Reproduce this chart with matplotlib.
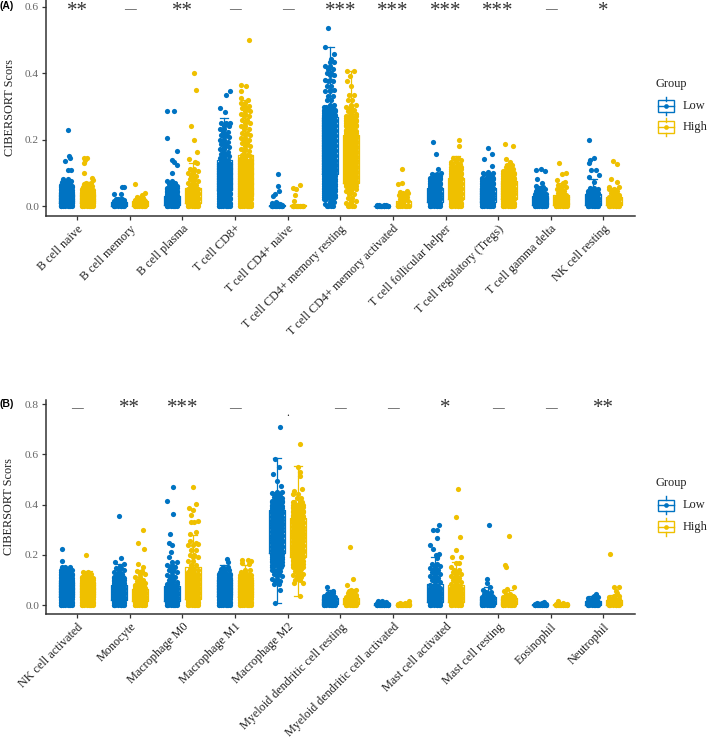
import matplotlib
matplotlib.use("Agg")
import matplotlib.pyplot as plt
from matplotlib.patches import Rectangle

plt.rcParams['font.family'] = ['Liberation Serif', 'DejaVu Serif']

LOW = '#0073C2'
HIGH = '#EFC000'
W, H = 709, 738

a_names = ['B cell naive', 'B cell memory', 'B cell plasma', 'T cell CD8+', 'T cell CD4+ naive',
           'T cell CD4+ memory resting', 'T cell CD4+ memory activated', 'T cell follicular helper',
           'T cell regulatory (Tregs)', 'T cell gamma delta', 'NK cell resting']
a_sig = ['**', '—', '**', '—', '—', '***', '***', '***', '***', '—', '*']
b_names = ['NK cell activated', 'Monocyte', 'Macrophage M0', 'Macrophage M1', 'Macrophage M2',
           'Myeloid dendritic cell resting', 'Myeloid dendritic cell activated', 'Mast cell activated',
           'Mast cell resting', 'Eosinophil', 'Neutrophil']
b_sig = ['—', '**', '***', '—', '.', '—', '—', '*', '—', '—', '**']

# sideways jitter: full rows inside the solid band, two marks per value outside it
row_lanes = [[-0.1, -0.02, 0.1, 0.04], [-0.07, 0.03, 0.07, -0.1], [-0.1, 0.0, 0.1, -0.04]]
thin_lanes = [[-0.06, 0.03], [-0.03, 0.06], [-0.09, 0.0], [0.0, 0.09]]

# dense part of each strip: y values only
a_low_body = [
    [0]*2 + [.004, .008, .012, .016, .021, .025, .03, .034, .038, .043, .047, .051, .056, .06, .064, .069, .072, .076, .08],
    [0]*2 + [.003, .006, .009, .012, .014, .017, .02, .022],
    [0]*2 + [.004, .008, .012, .016, .02, .024, .028, .032, .037, .041, .045, .05, .055, .06, .065, .07, .075],
    [0]*2 + [.005, .01, .015, .02, .025, .03, .035, .04, .045, .05, .055, .06, .065, .07, .075, .08, .085, .09, .095, .1, .105, .11, .115, .12, .125, .13, .135, .14, .145, .15, .158, .164, .172, .178, .186, .192, .2, .208, .215, .224, .232, .24, .25],
    [0]*3 + [.002, .004, .006, .009],
    [0]*2 + [.006, .012, .02, .027, .034, .04, .045, .05, .055, .06, .065, .07, .075, .08, .085, .09, .095, .1, .105, .11, .115, .12, .125, .13, .135, .14, .145, .15, .155, .16, .165, .17, .175, .18, .185, .19, .195, .2, .205, .21, .215, .22, .225, .23, .235, .24, .245, .25, .255, .26, .265, .27, .275, .28, .285, .29, .298, .305, .318, .33, .345, .35, .36, .375, .38, .395, .4, .412, .42, .432],
    [0]*3 + [.001, .002],
    [0]*2 + [.005, .01, .015, .02, .025, .03, .035, .04, .045, .05, .055, .06, .065, .07, .075, .08, .085, .09, .095],
    [0]*2 + [.005, .01, .015, .02, .025, .03, .035, .04, .045, .05, .055, .06, .065, .07, .075, .08, .085, .09, .095],
    [0]*2 + [.005, .01, .015, .02, .025, .03, .035, .04, .045, .05, .055],
    [0]*2 + [.005, .01, .015, .02, .025, .03, .035, .04, .045, .05, .055],
]
a_high_body = [
    [0]*2 + [.004, .008, .012, .016, .021, .025, .03, .034, .038, .043, .047, .051, .056, .06, .065, .07],
    [0]*2 + [.003, .006, .009, .012, .015, .018, .021, .024],
    [0]*2 + [.005, .01, .015, .02, .025, .03, .035, .04, .045, .05, .056, .062, .068, .075, .082, .09, .098, .105, .112],
    [0]*2 + [.005, .01, .015, .02, .025, .03, .035, .04, .045, .05, .055, .06, .065, .07, .075, .08, .085, .09, .095, .1, .105, .11, .115, .12, .125, .13, .135, .14, .145, .15, .155, .165, .172, .18, .19, .198, .205, .215, .22, .232, .24, .25, .26, .27, .278, .285, .295, .3, .31],
    [0]*3,
    [0]*2 + [.008, .015, .025, .035, .045, .05, .055, .06, .065, .07, .075, .08, .085, .09, .095, .1, .105, .11, .115, .12, .125, .13, .135, .14, .145, .15, .155, .16, .165, .17, .175, .18, .185, .19, .195, .2, .205, .21, .215, .22, .225, .23, .24, .245, .25, .255, .26, .265, .27, .278, .285, .29, .298, .305, .32, .335],
    [0]*2 + [.008, .015, .02, .027, .034, .04],
    [0]*2 + [.005, .01, .015, .02, .025, .03, .035, .04, .045, .05, .055, .06, .065, .07, .075, .08, .085, .09, .095, .1, .105, .11, .118, .125, .132, .14, .146],
    [0]*2 + [.005, .01, .015, .02, .025, .03, .035, .04, .045, .05, .055, .06, .065, .07, .075, .08, .085, .09, .095, .1, .105, .11, .118, .124],
    [0]*2 + [.005, .01, .016, .022, .028, .034, .04, .046, .052, .058, .064],
    [0]*2 + [.005, .01, .015, .02, .026, .032, .038, .044, .05],
]
# y range of each strip that reads as a solid block
a_low_solid = [(0, .065), (0, .015), (0, .055), (0, .125), (0, .004), (.02, .3), (0, .01), (0, .085), (0, .085), (0, .035), (0, .045)]
a_high_solid = [(0, .055), (0, .018), (0, .055), (0, .14), (0, .01), (.06, .27), (0, .001), (0, .125), (0, .105), (0, .028), (0, .028)]
# single points above the dense part: (jitter, y)
a_low_top = [
    [(.03, .228), (.05, .151), (.07, .145), (-.03, .135), (.03, .108), (.08, .108)],
    [(-.1, .036), (.04, .036), (.06, .058), (.09, .058)],
    [(-.09, .286), (.04, .286), (-.1, .206), (.09, .167), (0, .14), (.04, .131), (.09, .123), (.01, .1)],
    [(.1, .346), (.03, .335), (-.09, .296), (.02, .283), (.11, .25)],
    [(.01, .095), (.01, .06), (.04, .046), (-.04, .036), (-.07, .031), (-.02, .013)],
    [(-.03, .535), (-.08, .48), (.08, .456), (.03, .443)],
    [],
    [(-.03, .194), (.02, .157), (.06, .111), (.11, .098)],
    [(.01, .175), (.08, .157), (-.06, .141), (.08, .121), (.01, .103), (.11, .098), (-.08, .098)],
    [(-.08, .107), (.01, .111), (.09, .105), (-.07, .08), (.03, .07), (-.08, .06), (.05, .058)],
    [(-.08, .198), (.03, .146), (-.05, .138), (-.08, .128), (-.03, .108), (.06, .108), (.11, .093), (-.08, .086), (.03, .073)],
]
a_high_top = [
    [(-.06, .146), (-.02, .146), (-.05, .138), (-.06, .128), (-.06, .098), (.08, .083), (.1, .078)],
    [(-.09, .067), (.1, .038), (.03, .033), (-.06, .028)],
    [(.02, .4), (.06, .35), (-.04, .24), (.03, .2), (.07, .163), (-.07, .142), (.04, .132), (.08, .128)],
    [(.06, .501), (-.08, .364), (.01, .362), (-.08, .345), (-.09, .326), (.05, .32)],
    [(.04, .063), (-.09, .053), (-.04, .051), (-.06, .033), (-.08, .016)],
    [(-.08, .405), (.06, .405), (-.02, .39), (-.07, .376), (.0, .36)],
    [(-.03, .11), (-.02, .068), (-.1, .065), (-.07, .043), (.07, .045), (.03, .032)],
    [(.06, .199), (.05, .181)],
    [(-.07, .186), (.08, .18), (-.05, .142), (.03, .133)],
    [(-.05, .13), (.09, .1), (.01, .096), (-.09, .078), (.07, .073), (.03, .07)],
    [(-.02, .136), (.06, .125), (-.06, .081), (.06, .072), (-.1, .058), (.1, .058)],
]
a_low_box = [(0, .01, .02, .04, .075), (0, 0, .006, .012, .025), (0, .004, .012, .03, .07), (0, .048, .09, .14, .266),
             (0, 0, 0, .002, .006), (0, .095, .17, .268, .48), (0, 0, 0, 0, .002), (0, .012, .03, .055, .1),
             (0, .012, .03, .055, .1), (0, .002, .012, .03, .06), (0, .004, .015, .035, .08)]
a_high_box = [(0, .01, .022, .04, .072), (0, 0, .006, .014, .03), (0, .008, .025, .053, .128), (0, .03, .08, .153, .32),
              (0, 0, 0, .002, .004), (0, .07, .14, .213, .405), (0, 0, .004, .016, .04), (0, .02, .05, .085, .15),
              (0, .02, .045, .075, .125), (0, .004, .015, .032, .07), (0, .004, .012, .028, .055)]

b_low_body = [
    [0]*2 + [.006, .012, .018, .025, .031, .037, .044, .05, .056, .062, .068, .075, .081, .087, .094, .1, .106, .112, .118, .125, .131, .138, .144, .15],
    [0]*2 + [.006, .012, .018, .025, .031, .037, .044, .05, .056, .062, .068, .075, .081, .087, .094, .1, .106, .112, .118, .125, .131, .14, .148],
    [0]*2 + [.006, .012, .018, .025, .031, .037, .044, .05, .056, .062, .068, .075, .082, .09, .1, .11, .12, .13, .14, .15, .16, .17],
    [0]*2 + [.006, .012, .018, .025, .031, .037, .044, .05, .056, .062, .068, .075, .081, .087, .094, .1, .106, .112, .118, .125, .131, .138, .144, .15],
    [.085, .095, .105, .115, .125, .135, .14, .15, .16, .17, .175, .185, .19, .2, .205, .215, .22, .23, .235, .245, .25, .26, .265, .275, .28, .29, .295, .305, .31, .32, .325, .335, .34, .35, .355, .365, .37, .38, .385, .395, .4, .41, .415, .425, .43, .44, .445, .45],
    [0]*2 + [.006, .012, .018, .024, .03, .036, .042, .048],
    [0]*3 + [.004, .008, .012, .016],
    [0]*2 + [.006, .012, .018, .025, .031, .037, .044, .05, .056, .062, .068, .075, .08, .09, .1, .108, .116, .124, .132, .14, .148, .156, .165],
    [0]*2 + [.006, .012, .018, .024, .03, .036, .042, .05],
    [0]*3 + [.004, .008],
    [0]*2 + [.005, .01, .015, .02, .026, .032],
]
b_high_body = [
    [0]*2 + [.006, .012, .018, .025, .031, .037, .044, .05, .056, .062, .068, .075, .081, .087, .094, .1, .106, .112, .118, .125, .13],
    [0]*2 + [.006, .012, .018, .025, .031, .037, .044, .05, .056, .062, .068, .075, .081, .087, .094, .1, .11, .122, .134],
    [0]*2 + [.006, .012, .018, .025, .031, .037, .044, .05, .056, .062, .068, .075, .081, .087, .094, .1, .106, .112, .118, .125, .131, .138, .145, .16, .175, .19, .2, .22, .24],
    [0]*2 + [.006, .012, .018, .025, .031, .037, .044, .05, .056, .062, .068, .075, .081, .087, .094, .1, .106, .112, .118, .125, .131, .14],
    [.1, .11, .12, .125, .135, .145, .15, .16, .165, .175, .18, .19, .195, .205, .21, .22, .225, .235, .24, .25, .255, .265, .27, .28, .285, .295, .3, .31, .315, .325, .33, .34, .345, .355, .36, .37, .375, .385, .39, .4, .41, .425, .44],
    [0]*2 + [.006, .012, .018, .024, .03, .038, .046, .054],
    [0]*3 + [.004, .007],
    [0]*2 + [.006, .012, .018, .025, .031, .037, .044, .05, .056, .062, .068, .075, .082, .09, .098, .106, .114, .122, .13, .14],
    [0]*2 + [.006, .012, .018, .024, .03, .036, .042],
    [0]*3 + [.003, .007],
    [0]*2 + [.006, .012, .018, .024, .03, .036],
]
b_low_solid = [(0, .14), (0, .115), (0, .085), (0, .13), (.15, .42), (0, .04), (0, .008), (0, .07), (0, .03), (0, .005), (0, .018)]
b_high_solid = [(0, .115), (0, .08), (0, .13), (0, .12), (.15, .42), (0, .03), (0, .004), (0, .07), (0, .03), (0, .004), (0, .025)]
b_low_top = [
    [(-.08, .222), (-.08, .174), (-.08, .15)],
    [(0, .356), (.04, .186), (-.07, .17), (.09, .162), (.01, .155)],
    [(.02, .47), (-.09, .415), (.03, .364), (-.04, .284), (-.06, .248), (.01, .239), (-.02, .212), (-.05, .192)],
    [(.04, .184), (.07, .172)],
    [(.05, .71), (-.03, .58), (.03, .55), (-.08, .52), (0, .495), (.08, .475), (.05, .06), (-.03, .007)],
    [(-.06, .07), (.06, .056)],
    [],
    [(.07, .318), (-.04, .298), (.04, .298), (.04, .265), (-.09, .239), (-.04, .223), (.07, .205), (.01, .198), (.04, .186)],
    [(.03, .318), (-.01, .102), (-.01, .086), (.05, .073), (-.08, .06)],
    [(.08, .012)],
    [(.06, .042), (.02, .036)],
]
b_high_top = [
    [(-.03, .2)],
    [(.06, .3), (-.04, .245), (.08, .223), (-.04, .162), (.06, .15), (.0, .13)],
    [(0, .468), (.06, .403), (0, .38), (-.07, .385), (-.03, .36), (.1, .334), (-.03, .33), (.03, .33), (-.06, .284), (.06, .292), (-.05, .256), (.06, .245), (.09, .243)],
    [(-.06, .18), (.04, .18), (.11, .175), (-.06, .166), (.07, .165)],
    [(.03, .64), (0, .55), (.04, .53), (.04, .515), (-.08, .454), (.08, .46), (-.08, .086), (.09, .086), (.03, .036)],
    [(-.02, .23), (.05, .105), (-.07, .08), (.1, .06), (0, .06)],
    [(.1, .016)],
    [(.03, .46), (0, .349), (.08, .27), (-.01, .218), (-.07, .19), (.1, .19), (-.01, .167), (.05, .167), (-.09, .15)],
    [(.01, .276), (-.07, .16), (-.05, .153), (.1, .07), (-.03, .062), (-.09, .056)],
    [(-.06, .017)],
    [(-.07, .203), (.01, .07), (.1, .07), (.03, .054), (.06, .047)],
]
b_low_box = [(0, .03, .06, .095, .15), (0, .02, .045, .08, .165), (0, .015, .04, .075, .16), (0, .035, .07, .105, .16),
             (.007, .208, .29, .378, .584), (0, .004, .014, .028, .06), (0, 0, .002, .006, .014), (0, .012, .04, .085, .19),
             (0, .004, .016, .032, .07), (0, 0, .002, .005, .01), (0, .002, .008, .016, .034)]
b_high_box = [(0, .03, .06, .09, .135), (0, .015, .035, .065, .13), (0, .025, .07, .15, .28), (0, .03, .065, .1, .16),
              (.036, .192, .27, .345, .553), (0, .004, .012, .026, .055), (0, 0, .001, .004, .008), (0, .012, .04, .08, .17),
              (0, .004, .014, .028, .06), (0, 0, .001, .004, .008), (0, .002, .008, .02, .04)]


def add_strip(ax, pos, body, solid, top, color):
    xs, ys = [], []
    for i, y in enumerate(body):
        if solid[0] <= y <= solid[1]:
            offsets = row_lanes[i % len(row_lanes)]
        else:
            offsets = thin_lanes[i % len(thin_lanes)]
        xs += [pos + o for o in offsets]
        ys += [y] * len(offsets)
    xs += [pos + p[0] for p in top]
    ys += [p[1] for p in top]
    ax.scatter(xs, ys, s=14, color=color, linewidths=0, zorder=3, clip_on=False)


def add_boxes(ax, positions, rows, color):
    stats = [dict(whislo=r[0], q1=r[1], med=r[2], q3=r[3], whishi=r[4], fliers=[]) for r in rows]
    style = dict(color=color, linewidth=0.9)
    ax.bxp(stats, positions=positions, widths=0.3, showfliers=False, manage_ticks=False,
           boxprops=style, whiskerprops=style, capprops=style, medianprops=style, zorder=2)


def draw_panel(rect, ylim, yticks, names, sig, low, high, star_y, dash_y):
    ax = fig.add_axes(rect)
    pos = list(range(1, len(names) + 1))
    add_boxes(ax, [p - 0.2 for p in pos], low[3], LOW)
    add_boxes(ax, [p + 0.2 for p in pos], high[3], HIGH)
    for i, p in enumerate(pos):
        add_strip(ax, p - 0.2, low[0][i], low[1][i], low[2][i], LOW)
        add_strip(ax, p + 0.2, high[0][i], high[1][i], high[2][i], HIGH)
        if sig[i] == '—':
            ax.text(p, dash_y, sig[i], ha='center', va='center', fontsize=8.5, color='#333333')
        elif sig[i] == '.':
            ax.text(p, dash_y - 0.02, sig[i], ha='center', va='center', fontsize=8.5, color='#222222')
        else:
            ax.text(p, star_y, sig[i], ha='center', va='center', fontsize=15, color='#333333')
    ax.set_xlim(0.41, 11.6)
    ax.set_ylim(*ylim)
    ax.set_xticks(pos)
    ax.set_xticklabels(names, rotation=45, ha='right', va='top', rotation_mode='anchor',
                       fontsize=8.7, color='#222222')
    ax.set_yticks(yticks)
    ax.set_yticklabels(['%.1f' % t for t in yticks], fontsize=8.2, color='#666666')
    ax.tick_params(axis='both', length=3, width=0.9, color='#333333', pad=2)
    for side in ['top', 'right']:
        ax.spines[side].set_visible(False)
    for side in ['left', 'bottom']:
        ax.spines[side].set_linewidth(1.1)
        ax.spines[side].set_color('#333333')
    return ax


def px_text(x, y, s, **kw):
    fig.text(x / W, 1 - y / H, s, **kw)


def draw_key(x, y, color):
    # legend key, given in figure pixels
    trans = fig.transFigure
    fig.add_artist(Rectangle((x / W, 1 - (y + 5.5) / H), 16.5 / W, 11 / H, fill=False, edgecolor=color, linewidth=1.0, transform=trans))
    fig.add_artist(plt.Line2D([x / W, (x + 16.5) / W], [1 - y / H, 1 - y / H], color=color, lw=1.0, transform=trans))
    fig.add_artist(plt.Line2D([(x + 8.25) / W] * 2, [1 - (y - 9) / H, 1 - (y - 5.5) / H], color=color, lw=1.0, transform=trans))
    fig.add_artist(plt.Line2D([(x + 8.25) / W] * 2, [1 - (y + 5.5) / H, 1 - (y + 9) / H], color=color, lw=1.0, transform=trans))
    fig.add_artist(plt.Line2D([(x + 8.25) / W], [1 - y / H], color=color, marker='o', ms=3.4, mew=0, transform=trans))


def draw_legend(title_y, low_y, high_y):
    px_text(655, title_y, 'Group', fontsize=8.9, color='#222222', va='center', ha='left')
    draw_key(657.7, low_y, LOW)
    draw_key(657.7, high_y, HIGH)
    px_text(682.7, low_y, 'Low', fontsize=8.9, color='#222222', va='center', ha='left')
    px_text(682.7, high_y, 'High', fontsize=8.9, color='#222222', va='center', ha='left')


fig = plt.figure(figsize=(7.09, 7.38), dpi=100)

rect_a = [46 / W, 1 - 216 / H, 589 / W, 216 / H]
rect_b = [46 / W, 1 - 614 / H, 589 / W, 214 / H]
draw_panel(rect_a, (-0.03, 0.62), [0, .2, .4, .6], a_names, a_sig,
           (a_low_body, a_low_solid, a_low_top, a_low_box),
           (a_high_body, a_high_solid, a_high_top, a_high_box), 0.584, 0.591)
draw_panel(rect_b, (-0.0358, 0.816), [0, .2, .4, .6, .8], b_names, b_sig,
           (b_low_body, b_low_solid, b_low_top, b_low_box),
           (b_high_body, b_high_solid, b_high_top, b_high_box), 0.782, 0.784)

px_text(10, 108, 'CIBERSORT Scors', rotation=90, fontsize=8.8, color='#222222', ha='center', va='center')
px_text(9, 506.7, 'CIBERSORT Scors', rotation=90, fontsize=8.8, color='#222222', ha='center', va='center')
px_text(0, 6, '(A)', fontsize=7.5, fontweight='bold', family='Liberation Sans', va='center', ha='left')
px_text(0, 404, '(B)', fontsize=7.5, fontweight='bold', family='Liberation Sans', va='center', ha='left')

draw_legend(84, 106, 127)
draw_legend(482.7, 505, 526.7)

fig.savefig('out.png', dpi=100)
